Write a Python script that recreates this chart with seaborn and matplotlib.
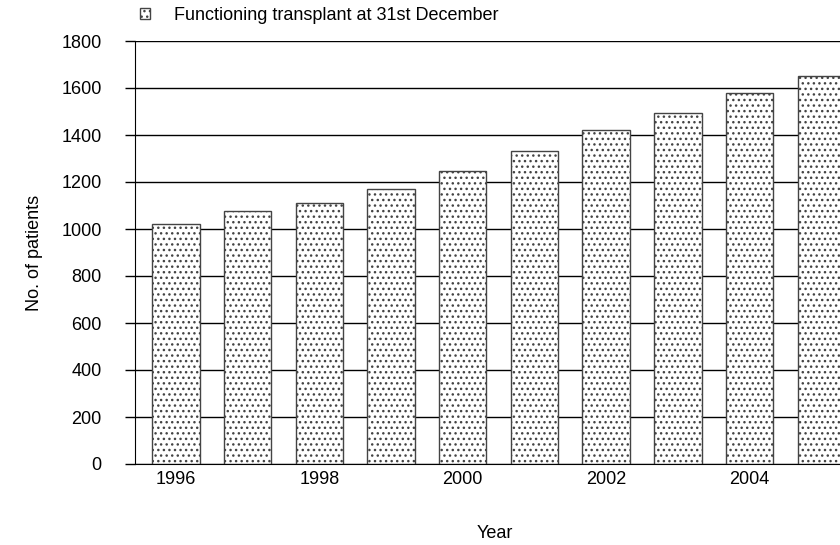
import matplotlib
matplotlib.use("Agg")
import matplotlib.pyplot as plt
import seaborn as sns
import pandas as pd

# Values
years = ["1996", "1997", "1998", "1999", "2000", "2001", "2002", "2003", "2004", "2005"]
patients = [1021, 1078, 1109, 1172, 1247, 1332, 1420, 1493, 1579, 1651]
series_name = "Functioning transplant at 31st December"

df = pd.DataFrame({"Year": years, "Patients": patients})

sns.set_style("white")
plt.rcParams["font.family"] = ["Liberation Sans", "DejaVu Sans"]
plt.rcParams["text.color"] = "black"
plt.rcParams["axes.labelcolor"] = "black"
plt.rcParams["xtick.color"] = "black"
plt.rcParams["ytick.color"] = "black"
plt.rcParams["hatch.color"] = "#666666"
plt.rcParams["hatch.linewidth"] = 1.0

fig = plt.figure(figsize=(8.4, 5.45), dpi=100)
ax = fig.add_axes([135 / 840, 1 - 464 / 545, 720 / 840, (464 - 41) / 545])

sns.barplot(data=df, x="Year", y="Patients", ax=ax, color="white",
            edgecolor="#444444", linewidth=1.0, width=0.66, hatch="...",
            label=series_name)

ax.set_ylim(0, 1800)
ax.set_yticks(range(0, 1801, 200))
ax.set_xlim(-0.57, 9.47)
ax.set_xticks(range(len(years)))
ax.set_xticklabels([y if i % 2 == 0 else "" for i, y in enumerate(years)])

ax.set_axisbelow(True)
ax.yaxis.grid(True, color="black", linewidth=1.0)
ax.tick_params(axis="y", left=True, length=7, width=1.0, color="black",
               pad=17, labelsize=13)
ax.tick_params(axis="x", bottom=False, length=0, pad=5, labelsize=13)

for side in ["top", "right"]:
    ax.spines[side].set_visible(False)
ax.spines["left"].set_color("black")
ax.spines["bottom"].set_color("black")

ax.set_xlabel("Year", fontsize=13, labelpad=27)
ax.set_ylabel("No. of patients", fontsize=13, labelpad=13)

ax.legend(loc="lower left", bbox_to_anchor=(140 / 840, 1 - 24 / 545),
          bbox_transform=fig.transFigure, frameon=False, fontsize=13,
          handlelength=0.55, handleheight=0.55, handletextpad=1.35,
          borderaxespad=0, borderpad=0)

fig.savefig("out.png", dpi=100)
